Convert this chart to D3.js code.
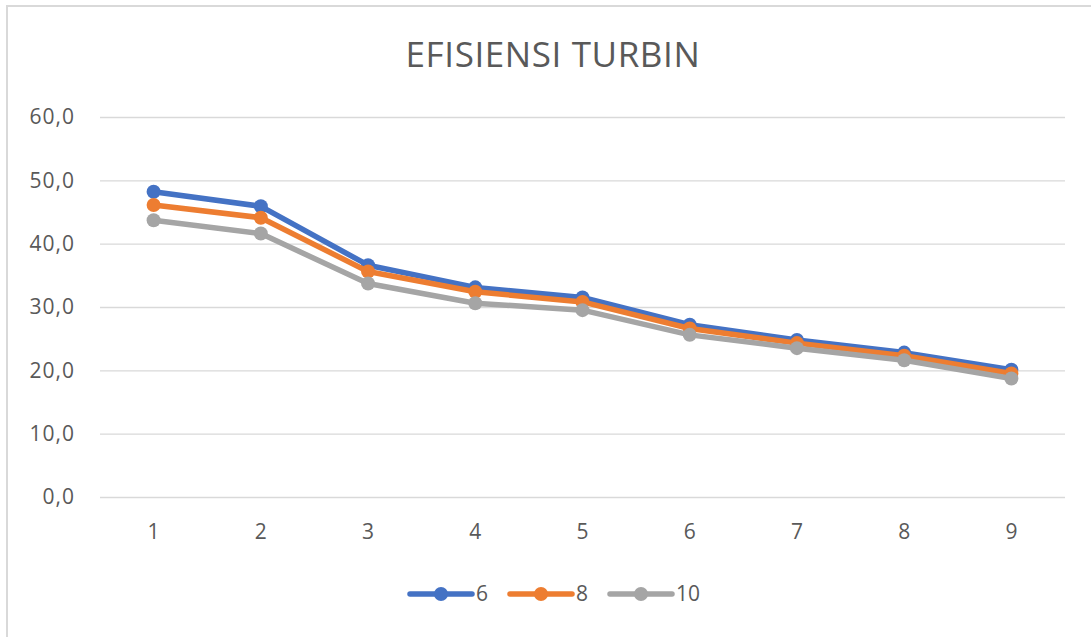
<!DOCTYPE html>
<html>
<head>
<meta charset="utf-8">
<script src="https://cdn.jsdelivr.net/npm/d3@7"></script>
<style>
  html, body { margin: 0; padding: 0; background: #fff; }
  svg { display: block; }
</style>
</head>
<body>
<svg id="chart" width="1091" height="637"></svg>
<script>
const title = "EFISIENSI TURBIN";
const categories = ["1", "2", "3", "4", "5", "6", "7", "8", "9"];
const seriesNames = ["6", "8", "10"];
const values6  = [48.2, 45.9, 36.6, 33.1, 31.5, 27.2, 24.8, 22.8, 20.1];
const values8  = [46.1, 44.1, 35.6, 32.4, 30.8, 26.6, 24.3, 22.3, 19.5];
const values10 = [43.7, 41.6, 33.7, 30.6, 29.5, 25.6, 23.5, 21.6, 18.7];
const yTicks = [0, 10, 20, 30, 40, 50, 60];
const colors = ["#4472C4", "#ED7D31", "#A5A5A5"];

const series = [values6, values8, values10].map((v, i) => ({ name: seriesNames[i], values: v, color: colors[i] }));

const svg = d3.select("#chart");
const W = 1091, H = 637;
const margin = { left: 100, right: 26, top: 117, bottom: 140 };
const font = "'Open Sans', 'Liberation Sans', sans-serif";
const textColor = "#595959";

// frame
svg.append("rect").attr("x", 7).attr("y", 6).attr("width", W + 10).attr("height", H + 10)
  .attr("fill", "#fff").attr("stroke", "#d9d9d9").attr("stroke-width", 2);

const x = d3.scaleBand().domain(categories).range([margin.left, W - margin.right]);
const y = d3.scaleLinear().domain([0, 60]).range([497, 117]);

// gridlines
const yAxis = d3.axisLeft(y).tickValues(yTicks).tickSize(-(W - margin.right - margin.left))
  .tickFormat(d => d3.format(".1f")(d).replace(".", ","));
const gy = svg.append("g").attr("transform", `translate(${margin.left},0)`).call(yAxis);
gy.select(".domain").remove();
gy.selectAll(".tick line").attr("stroke", "#d9d9d9").attr("stroke-width", 1.3);
gy.selectAll(".tick text").attr("x", -25).attr("fill", textColor)
  .style("font-family", font).style("font-size", "21px").style("letter-spacing", "1px");

const xAxis = d3.axisBottom(x).tickSize(0).tickPadding(27);
const gx = svg.append("g").attr("transform", `translate(0,${y(0)})`).call(xAxis);
gx.select(".domain").remove();
gx.selectAll(".tick text").attr("fill", textColor)
  .style("font-family", font).style("font-size", "21px");

// title
svg.append("text").attr("x", 553).attr("y", 67).attr("text-anchor", "middle")
  .attr("fill", textColor).style("font-family", font).style("font-size", "35px")
  .style("letter-spacing", "0.6px")
  .text(title);

const line = d3.line().x((d, i) => x(categories[i]) + x.bandwidth() / 2).y(d => y(d));

series.forEach(s => {
  const g = svg.append("g");
  g.append("path").datum(s.values).attr("d", line).attr("fill", "none")
    .attr("stroke", s.color).attr("stroke-width", 5.5).attr("stroke-linejoin", "round").attr("stroke-linecap", "round");
  g.selectAll("circle").data(s.values).enter().append("circle")
    .attr("cx", (d, i) => x(categories[i]) + x.bandwidth() / 2)
    .attr("cy", d => y(d)).attr("r", 7).attr("fill", s.color);
});

// legend
const legendX = [410, 510, 610];
const legY = 594;
series.forEach((s, i) => {
  const g = svg.append("g").attr("transform", `translate(${legendX[i]},${legY})`);
  g.append("line").attr("x1", 0).attr("x2", 62).attr("y1", 0).attr("y2", 0)
    .attr("stroke", s.color).attr("stroke-width", 5.5).attr("stroke-linecap", "round");
  g.append("circle").attr("cx", 31).attr("cy", 0).attr("r", 7).attr("fill", s.color);
  g.append("text").attr("x", 66).attr("y", 0).attr("dy", "0.35em").attr("fill", textColor)
    .style("font-family", font).style("font-size", "21px").text(s.name);
});
</script>
</body>
</html>
